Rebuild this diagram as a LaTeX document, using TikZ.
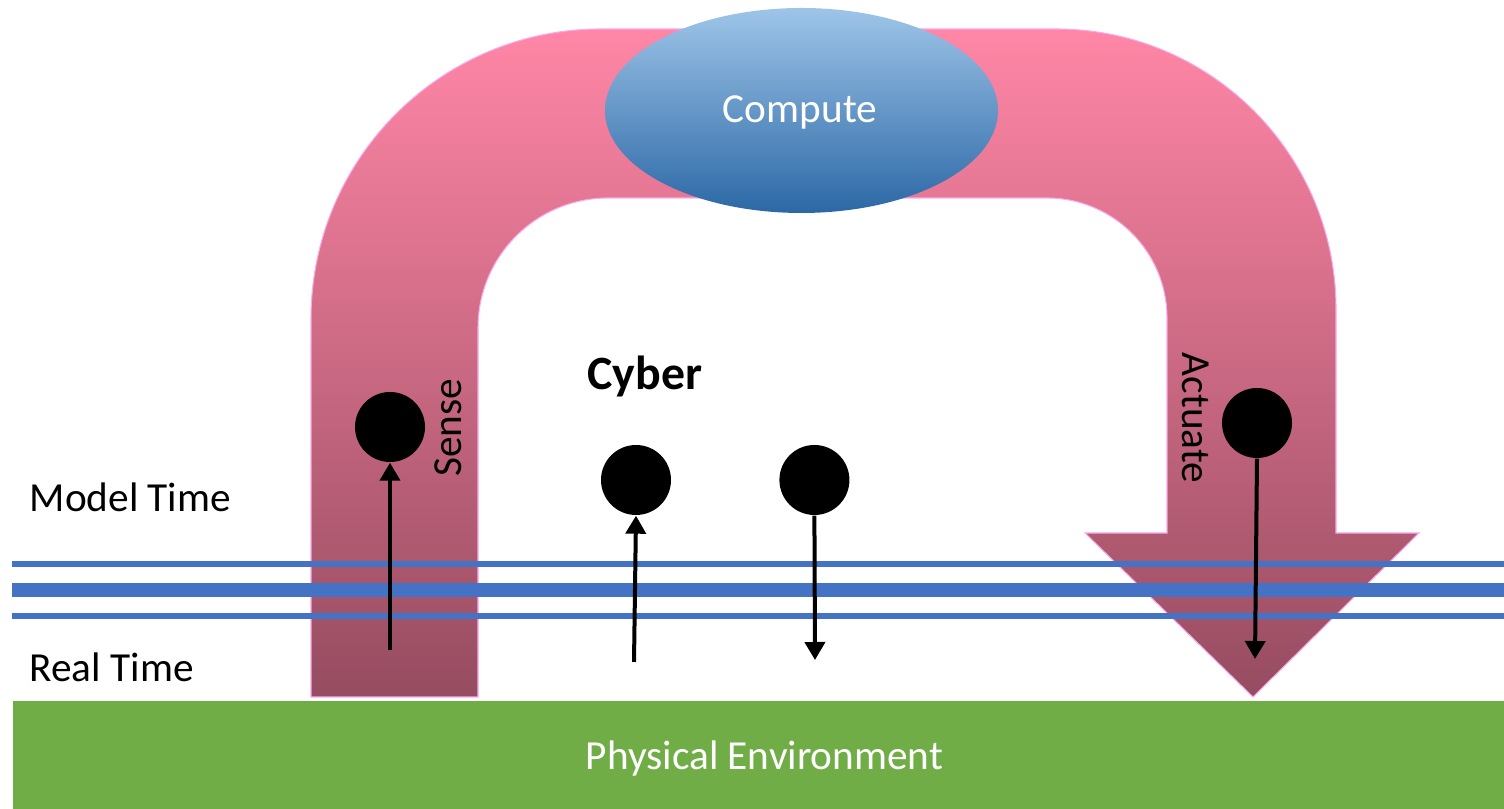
\documentclass[tikz,border=0pt]{standalone}
\usepackage{fontspec}
\setmainfont{Carlito}
\usetikzlibrary{shapes.geometric,arrows.meta,positioning}
\definecolor{pinktop}{RGB}{255,134,166}
\definecolor{pinkbot}{RGB}{150,76,96}
\definecolor{pinkedge}{RGB}{248,170,235}
\definecolor{bluetop}{RGB}{158,197,232}
\definecolor{bluebot}{RGB}{44,104,166}
\definecolor{timeline}{RGB}{68,114,196}
\definecolor{envgreen}{RGB}{112,173,71}
\begin{document}
\begin{tikzpicture}[
  lbl/.style = {inner sep=0, font=\fontsize{11.75}{14}\selectfont},
  dot/.style = {circle, fill=black, minimum size=0.7cm, inner sep=0},
  sig/.style = {line width=0.04cm, -{Triangle[length=0.18cm,width=0.2cm]}},
  tline/.style = {timeline, line width=#1}]
  \useasboundingbox (0,0) rectangle (15.04,8.09);
  % sense - compute - actuate loop
  \shade[top color=pinktop, bottom color=pinkbot, draw=pinkedge, line width=0.3pt]
    (3.11,1.12) -- (3.11,4.90) arc[start angle=180, end angle=90, radius=2.9]
    -- (10.56,7.80) arc[start angle=90, end angle=0, radius=2.8]
    -- (13.36,2.76) -- (14.19,2.76) -- (12.53,1.12) -- (10.85,2.76) -- (11.67,2.76)
    -- (11.67,4.91) arc[start angle=0, end angle=90, radius=1.2]
    -- (6.08,6.11) arc[start angle=90, end angle=180, radius=1.3]
    -- (4.78,1.12) -- cycle;
  \node[ellipse, minimum width=3.93cm, minimum height=2.05cm, inner sep=0,
    top color=bluetop, bottom color=bluebot] (compute) at (8.015,6.985) {};
  \node[lbl, white, anchor=base] (computetxt) at (8.00,6.86) {Compute};
  % time lines
  \draw[tline=0.06cm] (0.12,2.45) -- (15.04,2.45);
  \draw[tline=0.14cm] (0.12,2.19) -- (15.04,2.19);
  \draw[tline=0.06cm] (0.12,1.93) -- (15.04,1.93);
  % physical environment
  \fill[envgreen] (0.13,0) rectangle (15.04,1.08);
  \node[lbl, white, anchor=base] (env) at (7.645,0.39) {Physical Environment};
  % events
  \node[dot] (c1) at (3.90,3.82) {};
  \node[dot] (c2) at (6.36,3.29) {};
  \node[dot] (c3) [right=1.07cm of c2] {};
  \node[dot] (c4) at (12.57,3.86) {};
  \coordinate (s1) at (3.90,1.59);
  \coordinate (s2) at (6.34,1.47);
  \coordinate (e3) at (8.15,1.49);
  \coordinate (e4) at (12.55,1.50);
  \draw[sig] (s1) -- (c1.south);
  \draw[sig] (s2) -- (c2.south);
  \draw[sig] (c3.south) -- (e3);
  \draw[sig] (c4.south) -- (e4);
  % labels
  \node[lbl, anchor=west] (model) at (0.29,3.12) {Model Time};
  \node[lbl, anchor=west] (real) at (0.29,1.42) {Real Time};
  \node[inner sep=0, anchor=base west, font=\fontsize{13.6}{16}\selectfont\bfseries] (cyber) at (5.87,4.19) {Cyber};
  \node[lbl, rotate=90] (sense) at (4.48,3.81) {Sense};
  \node[lbl, rotate=-90] (actuate) at (11.96,3.91) {Actuate};
\end{tikzpicture}
\end{document}
